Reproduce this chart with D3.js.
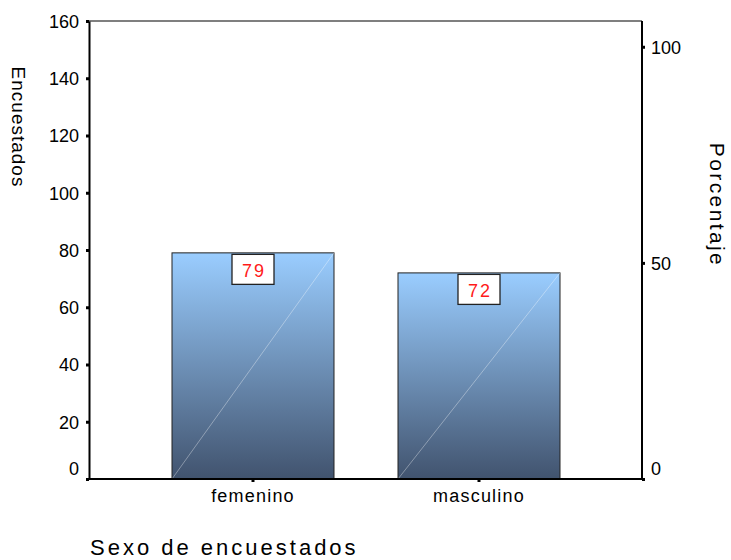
<!DOCTYPE html>
<html><head><meta charset="utf-8">
<script src="https://cdn.jsdelivr.net/npm/d3@7"></script>
<style>body{margin:0;background:#fff}svg{display:block;font-family:"Liberation Sans",Arial,sans-serif}</style>
</head><body><svg id="c" width="731" height="560"></svg>
<script>
const categories = ["femenino", "masculino"];
const counts = [79, 72];
const countTicks = [0, 20, 40, 60, 80, 100, 120, 140, 160];
const pctTicks = [0, 50, 100];

const svg = d3.select("#c");
const L = 89, R = 642, T = 21, B = 479;
const FONT = "Liberation Sans, Arial, sans-serif";
const total = d3.sum(counts);
const y = d3.scaleLinear().domain([0, 160]).range([B, T]);
const yPct = d3.scaleLinear().domain([0, 100]).range([B, y(total)]);
const x = d3.scaleBand().domain(categories).range([140, 592]).paddingInner(0.2832).paddingOuter(0.1416);

const defs = svg.append("defs");
const g = defs.append("linearGradient").attr("id", "bg").attr("x1", 0).attr("y1", 0).attr("x2", 0).attr("y2", 1);
g.append("stop").attr("offset", "0%").attr("stop-color", "#9acdff");
g.append("stop").attr("offset", "100%").attr("stop-color", "#41536e");

// frame top line
svg.append("line").attr("x1", L).attr("x2", R).attr("y1", T).attr("y2", T).attr("stroke", "#555").attr("stroke-width", 1.5);

// bars
const bars = svg.append("g").selectAll("g").data(categories).join("g");
bars.append("rect")
  .attr("x", d => x(d)).attr("y", (d, i) => y(counts[i]))
  .attr("width", x.bandwidth()).attr("height", (d, i) => B - y(counts[i]))
  .attr("fill", "url(#bg)").attr("stroke", "#222").attr("stroke-width", 1);
bars.append("line")
  .attr("x1", d => x(d)).attr("y1", B)
  .attr("x2", d => x(d) + x.bandwidth()).attr("y2", (d, i) => y(counts[i]))
  .attr("stroke", "#ffffff").attr("stroke-opacity", 0.45).attr("stroke-width", 0.8);

// value labels
const lab = svg.append("g").selectAll("g").data(categories).join("g");
lab.append("rect")
  .attr("x", d => x(d) + x.bandwidth() / 2 - 21).attr("y", (d, i) => y(counts[i]) + 1.5)
  .attr("width", 42).attr("height", 30).attr("fill", "#fff").attr("stroke", "#222").attr("stroke-width", 1.3);
lab.append("text")
  .attr("x", d => x(d) + x.bandwidth() / 2 + 1).attr("y", (d, i) => y(counts[i]) + 24)
  .attr("text-anchor", "middle").attr("fill", "#ff1a1a").attr("font-size", 18).attr("letter-spacing", 2)
  .text((d, i) => counts[i]);

// axes
const ax = g => { g.selectAll(".domain").attr("stroke", "#000").attr("stroke-width", 2); g.selectAll(".tick line").attr("stroke", "#000").attr("stroke-width", 3); };
svg.append("g").attr("transform", `translate(${L},0)`)
  .call(d3.axisLeft(y).tickValues(countTicks).tickSize(3).tickSizeOuter(0).tickPadding(7))
  .call(ax).call(g => g.selectAll("text").attr("font-size", 18).attr("fill", "#000").attr("font-family", FONT)
    .attr("dy", d => d === 0 ? "-0.25em" : "0.36em"));
svg.append("g").attr("transform", `translate(${R},0)`)
  .call(d3.axisRight(yPct).tickValues(pctTicks).tickSize(3).tickSizeOuter(0).tickPadding(6))
  .call(ax).call(g => g.select(".domain").attr("d", `M0,${T}V${B}`))
  .call(g => g.selectAll("text").attr("font-size", 18).attr("fill", "#000").attr("font-family", FONT)
    .attr("dy", d => d === 0 ? "-0.25em" : "0.36em"));
svg.append("g").attr("transform", `translate(0,${B})`)
  .call(d3.axisBottom(x).tickSize(3).tickSizeOuter(0).tickPadding(7))
  .call(ax).call(g => g.select(".domain").attr("d", `M${L},0H${R}`))
  .call(g => g.selectAll("text").attr("font-size", 18).attr("fill", "#000").attr("letter-spacing", 1.2).attr("font-family", FONT));

// titles
svg.append("text").attr("transform", `translate(12,127) rotate(90)`).attr("text-anchor", "middle")
  .attr("font-size", 19).attr("letter-spacing", 1).attr("fill", "#000").text("Encuestados");
svg.append("text").attr("transform", `translate(710,205) rotate(90)`).attr("text-anchor", "middle")
  .attr("font-size", 21).attr("letter-spacing", 2.4).attr("fill", "#000").text("Porcentaje");
svg.append("text").attr("x", 90).attr("y", 555).attr("font-size", 22).attr("letter-spacing", 3).attr("fill", "#000").text("Sexo de encuestados");
</script></body></html>
